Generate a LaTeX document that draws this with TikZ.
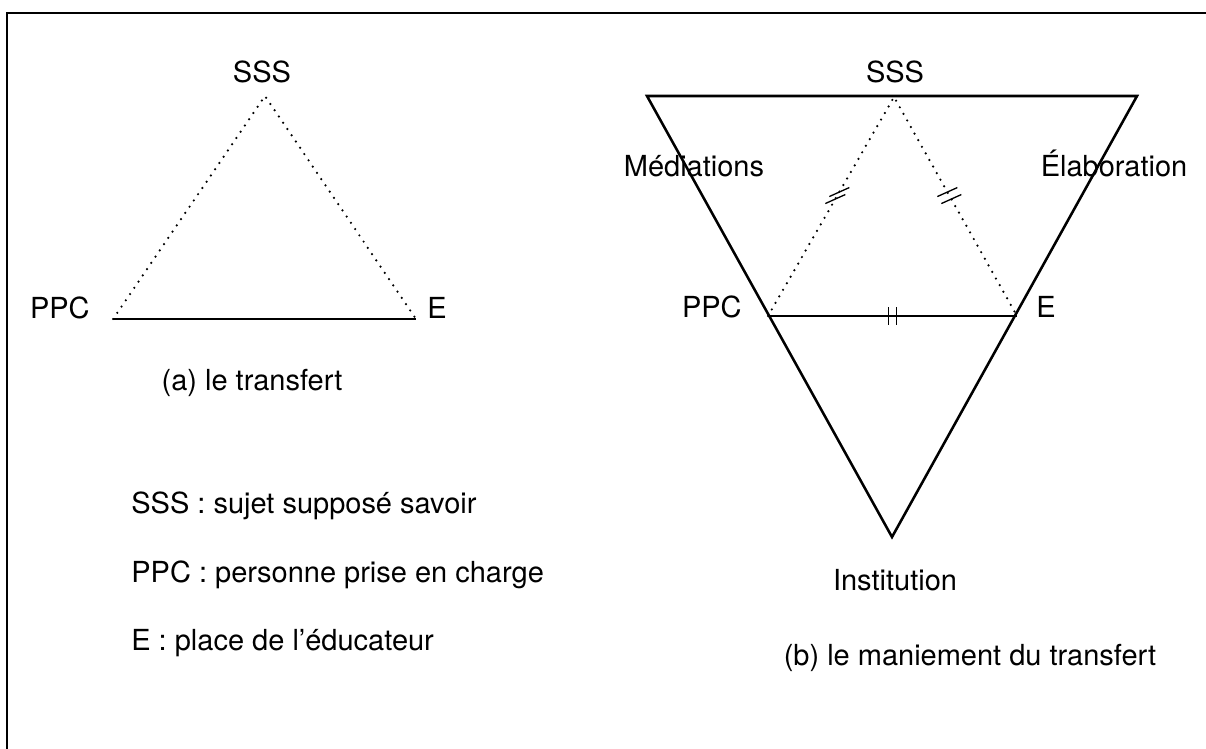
\documentclass[tikz,border=0pt]{standalone}
\usepackage{fontspec}
\setmainfont{TeX Gyre Heros}
\usetikzlibrary{calc}

\begin{document}
\begin{tikzpicture}[x=0.02cm,y=-0.02cm,
    lab/.style={font=\fontsize{16.5}{20}\selectfont, inner sep=0pt},
    thickline/.style={line width=1.45pt},
    thinline/.style={line width=0.75pt},
    dots/.style={line width=1.4pt, line cap=round, dash pattern=on 0pt off 4.3pt}]
    \clip (0,0) rectangle (1206,748);
    % frame
    \draw[line width=1.5pt] (7,770) -- (7,13) -- (1230,13);

    % (a) le transfert
    \coordinate (A) at (265,96);
    \coordinate (B) at (113,319);
    \coordinate (C) at (416,319);
    \draw[dots] (B) -- (A) -- (C);
    \draw[thickline] (B) -- (C);
    \node[lab, anchor=base] (sssA) at (262,82) {SSS};
    \node[lab, anchor=base east] (ppcA) at (90,318) {PPC};
    \node[lab, anchor=base west] (eA) at (427,318) {E};
    \node[lab, anchor=base] (capA) at (252,390) {(a) le transfert};

    % legend
    \node[lab, anchor=base west] (leg1) at (131,513) {SSS : sujet supposé savoir};
    \node[lab, anchor=base west] (leg2) at (131,582) {PPC : personne prise en charge};
    \node[lab, anchor=base west] (leg3) at (131,650) {E : place de l’éducateur};

    % (b) le maniement du transfert
    \coordinate (TL) at (647,96);
    \coordinate (TR) at (1137,96);
    \coordinate (I) at (892,537);
    \draw[thickline, line join=miter] (TL) -- (TR) -- (I) -- cycle;
    \coordinate (S) at (894,97);
    \coordinate (P) at (768,316);
    \coordinate (Q) at (1017,316);
    \draw[dots] (P) -- (S) -- (Q);
    \draw[thinline] (P) -- (Q);
    \node[lab, anchor=base] (sssB) at (895,82) {SSS};
    \node[lab, anchor=base east] (ppcB) at (742,317) {PPC};
    \node[lab, anchor=base west] (eB) at (1036,317) {E};
    \node[lab, anchor=base] (med) at (694,176) {Médiations};
    \node[lab, anchor=base] (ela) at (1114,176) {Élaboration};
    \node[lab, anchor=base] (inst) at (895,590) {Institution};
    \node[lab, anchor=base] (capB) at (970,665) {(b) le maniement du transfert};

    % equality ticks
    \path (P) -- coordinate[pos=0.55] (mL) (S);
    \path (Q) -- coordinate[pos=0.55] (mR) (S);
    \path (P) -- coordinate[pos=0.5] (mB) (Q);
    \foreach \d in {-1,1} {
      \draw[thinline] ($(mL)+(2*\d,-3.5*\d)+(-10,4.5)$) -- ++(20,-9);
      \draw[thinline] ($(mR)+(-2*\d,-3.5*\d)+(-10,4.5)$) -- ++(20,-9);
      \draw[thinline] ($(mB)+(4*\d,-9)$) -- ++(0,18);
    }
\end{tikzpicture}
\end{document}
